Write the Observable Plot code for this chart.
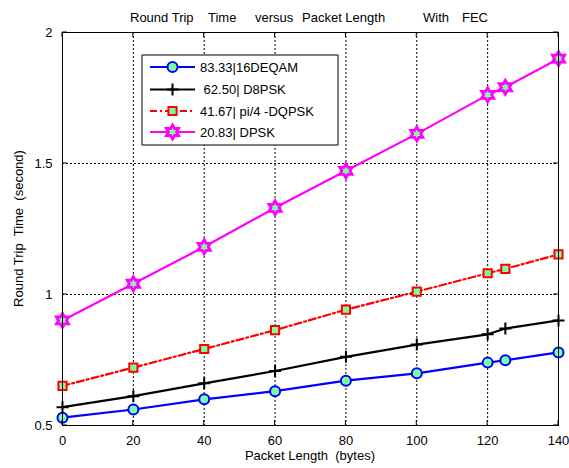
<!DOCTYPE html>
<html>
<head>
<meta charset="utf-8">
<script src="https://cdn.jsdelivr.net/npm/d3@7"></script>
<script src="https://cdn.jsdelivr.net/npm/@observablehq/plot@0.6"></script>
<style>
  html, body { margin: 0; padding: 0; background: white; }
  svg text { white-space: pre; }
</style>
</head>
<body>
<div id="chart"></div>
<script>
// ---- data ----
const packetLengths = [0, 20, 40, 60, 80, 100, 120, 125, 140];
const qam16 = [0.530, 0.561, 0.600, 0.631, 0.671, 0.699, 0.740, 0.749, 0.779];
const d8psk = [0.570, 0.612, 0.661, 0.708, 0.762, 0.809, 0.848, 0.870, 0.901];
const dqpsk = [0.651, 0.721, 0.792, 0.864, 0.942, 1.011, 1.081, 1.098, 1.153];
const dpsk  = [0.901, 1.041, 1.182, 1.331, 1.472, 1.613, 1.762, 1.791, 1.900];
const seriesNames = ["83.33|16DEQAM", " 62.50| D8PSK", "41.67| pi/4 -DQPSK", "20.83| DPSK"];
const xTicks = [0, 20, 40, 60, 80, 100, 120, 140];
const yTicks = [0.5, 1, 1.5, 2];
const yTickLabels = ["0.5", "1", "1.5", "2"];
const titleWords = ["Round Trip", "Time", "versus", "Packet Length", "With", "FEC"];
const xLabel = "Packet Length  (bytes)";
const yLabel = "Round Trip  Time  (second)";

// ---- styles ----
const FONT = "'Liberation Sans', Arial, Helvetica, sans-serif";
const FACE = "#7dffa1";
// title word start offsets relative to the plot's horizontal centre (layout only)
const titleOffsets = [-180, -102, -55, -8, 113, 152];

const plusSymbol = {
  draw(ctx, size) {
    const r = Math.sqrt(size / Math.PI);
    ctx.moveTo(-r, 0); ctx.lineTo(r, 0);
    ctx.moveTo(0, -r); ctx.lineTo(0, r);
  }
};
const hexagramSymbol = {
  draw(ctx, size) {
    const R = Math.sqrt(size / Math.PI);
    const ri = R / Math.sqrt(3);
    for (let i = 0; i < 12; i++) {
      const a = -Math.PI / 2 + i * Math.PI / 6;
      const rr = i % 2 === 0 ? R : ri;
      const px = rr * Math.cos(a), py = rr * Math.sin(a);
      if (i === 0) ctx.moveTo(px, py); else ctx.lineTo(px, py);
    }
    ctx.closePath();
  }
};

const series = [
  {name: seriesNames[0], values: qam16, stroke: "#0000ff", dash: null, symbol: "circle", r: 5, fill: FACE, mstroke: "#0000ff", msw: 2},
  {name: seriesNames[1], values: d8psk, stroke: "#000000", dash: null, symbol: plusSymbol, r: 6, fill: "none", mstroke: "#000000", msw: 2},
  {name: seriesNames[2], values: dqpsk, stroke: "#ff0000", dash: "7,3,2,3", symbol: "square", r: 4.6, fill: FACE, mstroke: "#ff0000", msw: 2},
  {name: seriesNames[3], values: dpsk, stroke: "#ff00ff", dash: null, symbol: hexagramSymbol, r: 7, fill: FACE, mstroke: "#ff00ff", msw: 2.8}
];

const tables = series.map(s => packetLengths.map((x, i) => ({x, y: s.values[i]})));

const marks = [
  Plot.gridX(xTicks, {stroke: "black", strokeOpacity: 1, strokeDasharray: "2,2", strokeWidth: 1}),
  Plot.gridY(yTicks, {stroke: "black", strokeOpacity: 1, strokeDasharray: "2,2", strokeWidth: 1}),
  Plot.axisX({ticks: xTicks, tickSize: 0, tickPadding: 10, label: null, fontSize: 13}),
  Plot.axisY({ticks: yTicks, tickSize: 0, tickPadding: 10, label: null, fontSize: 13,
              tickFormat: d => yTickLabels[yTicks.indexOf(d)]}),
];
series.forEach((s, k) => {
  marks.push(Plot.line(tables[k], {x: "x", y: "y", stroke: s.stroke, strokeWidth: 2.2,
    strokeDasharray: s.dash, curve: "linear"}));
});
series.forEach((s, k) => {
  marks.push(Plot.dot(tables[k], {x: "x", y: "y", symbol: s.symbol, r: s.r, fill: s.fill,
    stroke: s.mstroke, strokeWidth: s.msw}));
});
marks.push(Plot.frame({stroke: "black", strokeWidth: 1}));

const svg = Plot.plot({
  width: 569, height: 468,
  marginTop: 32, marginLeft: 62, marginRight: 11, marginBottom: 43,
  x: {domain: [0, 140]},
  y: {domain: [0.5, 2]},
  style: {fontFamily: FONT, fontSize: "13px", color: "black", background: "white", overflow: "visible"},
  marks
});
document.getElementById("chart").appendChild(svg);

// ---- decorations using the plot's scales ----
const xs = svg.scale("x"), ys = svg.scale("y");
const [x0, x1] = xs.range, [yB, yT] = ys.range;
const g = d3.select(svg).append("g").attr("stroke", "black").attr("stroke-width", 1);
const TL = 5;
xTicks.forEach(v => {
  const px = xs.apply(v);
  g.append("line").attr("x1", px).attr("x2", px).attr("y1", yB).attr("y2", yB - TL);
  g.append("line").attr("x1", px).attr("x2", px).attr("y1", yT).attr("y2", yT + TL);
});
yTicks.forEach(v => {
  const py = ys.apply(v);
  g.append("line").attr("x1", x0).attr("x2", x0 + TL).attr("y1", py).attr("y2", py);
  g.append("line").attr("x1", x1).attr("x2", x1 - TL).attr("y1", py).attr("y2", py);
});

const sel = d3.select(svg);
const cx = (x0 + x1) / 2;
const title = sel.append("text").attr("y", 22).attr("font-size", 13).attr("text-anchor", "start")
  .attr("font-family", FONT).attr("fill", "black");
titleWords.forEach((w, i) => {
  title.append("tspan").attr("x", cx + titleOffsets[i]).text(w);
});
sel.append("text").attr("x", cx).attr("y", 460).attr("text-anchor", "middle")
  .attr("font-size", 13).attr("font-family", FONT).attr("fill", "black").text(xLabel);
sel.append("text").attr("transform", `translate(23,${(yB + yT) / 2}) rotate(-90)`)
  .attr("text-anchor", "middle").attr("font-size", 13).attr("font-family", FONT)
  .attr("fill", "black").text(yLabel);

// ---- legend ----
const lg = sel.append("g");
lg.append("rect").attr("x", 142).attr("y", 55).attr("width", 196).attr("height", 90)
  .attr("fill", "white").attr("stroke", "black").attr("stroke-width", 1);
const rowY = [67, 89.5, 111, 132];
series.forEach((s, k) => {
  const cy = rowY[k];
  lg.append("line").attr("x1", 150).attr("x2", 195).attr("y1", cy).attr("y2", cy)
    .attr("stroke", s.stroke).attr("stroke-width", 2.2).attr("stroke-dasharray", s.dash);
  const symType = typeof s.symbol === "string"
    ? (s.symbol === "circle" ? d3.symbolCircle : d3.symbolSquare) : s.symbol;
  lg.append("path").attr("transform", `translate(172.5,${cy})`)
    .attr("d", d3.symbol(symType, Math.PI * s.r * s.r)())
    .attr("fill", s.fill).attr("stroke", s.mstroke).attr("stroke-width", s.msw);
  lg.append("text").attr("x", 200).attr("y", cy + 4.5).attr("font-size", 13).attr("text-anchor", "start")
    .attr("font-family", FONT).attr("fill", "black").text(s.name);
});
</script>
</body>
</html>
